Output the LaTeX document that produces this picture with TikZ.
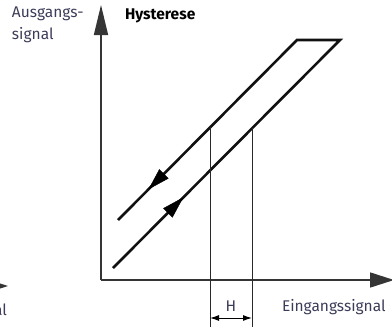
\documentclass[tikz,border=0pt]{standalone}
\usepackage{fontspec}
\setmainfont{Fira Sans}
\usepackage{tikz}
\usetikzlibrary{arrows.meta,decorations.markings}
\definecolor{HyLabel}{HTML}{3C3C5A}
\definecolor{HyLine}{HTML}{111111}

\begin{document}
\begin{tikzpicture}[
    x=1pt, y=-1pt,
    every node/.style={inner sep=0pt, outer sep=0pt},
    lbl/.style={font=\fontsize{15.5}{22}\selectfont, text=HyLabel, align=left},
    axis/.style={line width=1.6pt, color=HyLine!85, -{Triangle[length=30pt,width=14pt]}},
    branch/.style={line width=2.6pt, color=HyLine, line join=miter},
    guide/.style={line width=1pt, color=HyLine!90},
    dim/.style={line width=1pt, {Latex[length=9pt,width=6pt]}-{Latex[length=9pt,width=6pt]}},
    flow/.style={postaction={decorate, decoration={markings,
        mark=at position #1 with {\arrow{Triangle[length=22pt,width=13pt]}}}}}
  ]
    \useasboundingbox (0,0) rectangle (392,327);
    \clip (0,0) rectangle (392,327);

    % axes
    \coordinate (o) at (101,280);
    \coordinate (ytop) at (101,5);
    \coordinate (xend) at (394,280);
    \draw[axis] (o) -- (ytop);
    \draw[axis, -{Triangle[length=24pt,width=15pt]}] (o) -- (xend);

    % hysteresis loop
    \coordinate (ua) at (118,220);
    \coordinate (ub) at (297,40);
    \coordinate (lb) at (340,40);
    \coordinate (la) at (113,268);
    \draw[branch] (ua) -- (ub) -- (lb) -- (la);
    \path[flow=0.83] (ub) -- (ua);
    \path[flow=0.31] (la) -- (lb);

    % width H
    \coordinate (h1) at (210,127);
    \coordinate (h2) at (252,128);
    \coordinate (h1b) at (210,330);
    \coordinate (h2b) at (252,330);
    \draw[guide] (h1) -- (h1b);
    \draw[guide] (h2) -- (h2b);
    \coordinate (d1) at (210,318);
    \coordinate (d2) at (252,318);
    \draw[dim] (d1) -- (d2);

    % labels
    \node[lbl, anchor=north west] (yl) at (12,7) {Ausgangs-\\signal};
    \node[font=\fontsize{15.5}{18}\selectfont\bfseries, anchor=base west] (title) at (125,19) {Hysterese};
    \node[lbl, anchor=base] (hl) at (231,311) {H};
    \node[lbl, anchor=base west] (xl) at (282,311) {Eingangssignal};

    % cut-off neighbour
    \coordinate (nb) at (-20,286);
    \coordinate (nt) at (8,286);
    \draw[axis, -{Triangle[length=24pt,width=15pt]}] (nb) -- (nt);
    \node[lbl, anchor=base east] (nl) at (7,315) {Eingangssignal};
  \end{tikzpicture}
\end{document}
